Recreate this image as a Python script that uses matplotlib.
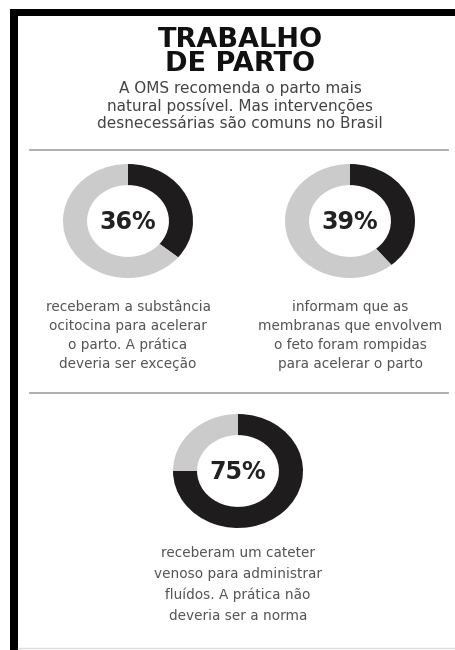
import matplotlib
matplotlib.use("Agg")
import matplotlib.pyplot as plt

# dados
titulo = ["TRABALHO", "DE PARTO"]
subtitulo = ["A OMS recomenda o parto mais",
             "natural possível. Mas intervenções",
             "desnecessárias são comuns no Brasil"]
percentuais = [36, 39, 75]
rotulos = ["36%", "39%", "75%"]
descricoes = [
    ["receberam a substância", "ocitocina para acelerar", "o parto. A prática", "deveria ser exceção"],
    ["informam que as", "membranas que envolvem", "o feto foram rompidas", "para acelerar o parto"],
    ["receberam um cateter", "venoso para administrar", "fluídos. A prática não", "deveria ser a norma"],
]

W, H = 455, 650
ESCURO = "#1f1c1d"
CLARO = "#cbcbcb"

plt.rcParams['font.family'] = ['DejaVu Sans']
fig = plt.figure(figsize=(W / 100, H / 100), dpi=100)
fig.patch.set_facecolor("white")

# eixo de fundo em pixels
bg = fig.add_axes([0, 0, 1, 1])
bg.set_xlim(0, W)
bg.set_ylim(H, 0)
bg.axis("off")

# moldura preta (topo e esquerda)
bg.fill_between([10, W], 9, 16, color="black", lw=0)
bg.fill_between([10, 18], 9, H, color="black", lw=0)
bg.plot([18, W], [648, 648], color="#dddddd", lw=1)

# titulo e subtitulo
bg.text(240, 40, titulo[0], ha="center", va="center", fontsize=19.5,
        fontweight="heavy", color="#111111")
bg.text(240, 64, titulo[1], ha="center", va="center", fontsize=19.5,
        fontweight="heavy", color="#111111")
for i, linha in enumerate(subtitulo):
    bg.text(240, 89 + i * 17, linha, ha="center", va="center",
            fontsize=11, color="#444444")

# linhas separadoras
bg.plot([30, 448], [150, 150], color="#a8a8a8", lw=1.3)
bg.plot([30, 448], [393, 393], color="#a8a8a8", lw=1.3)

# rosquinhas: (centro x, centro y, raio x, raio y) em pixels
posicoes = [(128, 221, 65, 57), (350, 221, 65, 57), (238, 471, 65, 57)]
desc_y = [(307, 19), (307, 19), (553, 21)]

for k, pct in enumerate(percentuais):
    cx, cy, rx, ry = posicoes[k]
    ax = fig.add_axes([(cx - rx) / W, 1 - (cy + ry) / H, 2 * rx / W, 2 * ry / H])
    ax.pie([pct, 100 - pct], colors=[ESCURO, CLARO], startangle=90,
           counterclock=False, radius=1,
           wedgeprops=dict(width=0.37, edgecolor="none"))
    ax.set_aspect("auto")
    ax.set_xlim(-1, 1)
    ax.set_ylim(-1, 1)
    ax.axis("off")
    ax.text(0, -0.02, rotulos[k], ha="center", va="center", fontsize=17,
            fontweight="heavy", color="#222222")

    y0, dy = desc_y[k]
    for j, linha in enumerate(descricoes[k]):
        bg.text(cx, y0 + j * dy, linha, ha="center", va="center",
                fontsize=9.8, color="#555555")

fig.savefig("out.png", dpi=100, facecolor="white")
